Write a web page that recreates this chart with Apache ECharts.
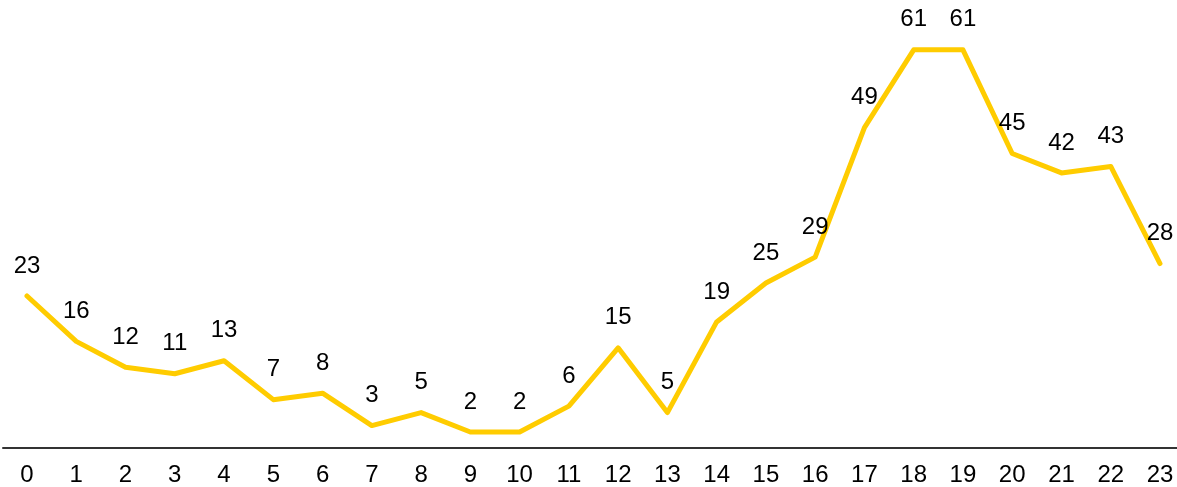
<!DOCTYPE html>
<html><head><meta charset="utf-8">
<script src="https://cdn.jsdelivr.net/npm/echarts@6/dist/echarts.min.js"></script>
<style>html,body{margin:0;padding:0;background:#fff}#c{width:1177px;height:487px}</style>
</head><body><div id="c"></div>
<script>
var categories = ['0','1','2','3','4','5','6','7','8','9','10','11','12','13','14','15','16','17','18','19','20','21','22','23'];
var values = [23,16,12,11,13,7,8,3,5,2,2,6,15,5,19,25,29,49,61,61,45,42,43,28];

var chart = echarts.init(document.getElementById('c'), null, {renderer:'canvas'});
chart.setOption({
  animation:false,
  grid:[
    {left:27, right:17, top:4.5, bottom:39.5, containLabel:false},
    {left:3, right:0, top:4.5, bottom:39.5, containLabel:false}
  ],
  xAxis:[
    {type:'category', data:categories, boundaryGap:false, gridIndex:0,
     axisLine:{show:false}, axisTick:{show:false}, splitLine:{show:false},
     axisLabel:{color:'#000', fontSize:24, fontFamily:'Liberation Sans, Arial, sans-serif', margin:18, interval:0}},
    {type:'value', gridIndex:1, min:0, max:1, show:true,
     axisLine:{show:true, lineStyle:{color:'#333', width:2}}, axisTick:{show:false},
     axisLabel:{show:false}, splitLine:{show:false}}
  ],
  yAxis:[
    {type:'value', gridIndex:0, min:0, max:68, show:false},
    {type:'value', gridIndex:1, min:0, max:1, show:false}
  ],
  series:[{
    type:'line', data:values, xAxisIndex:0, yAxisIndex:0,
    symbol:'circle', symbolSize:0.01, showSymbol:true,
    lineStyle:{color:'#FFCC00', width:5, cap:'round', join:'round'},
    itemStyle:{color:'#FFCC00'},
    label:{show:true, position:'top', distance:18, color:'#000', fontSize:24, fontFamily:'Liberation Sans, Arial, sans-serif'}
  }]
});
</script></body></html>
